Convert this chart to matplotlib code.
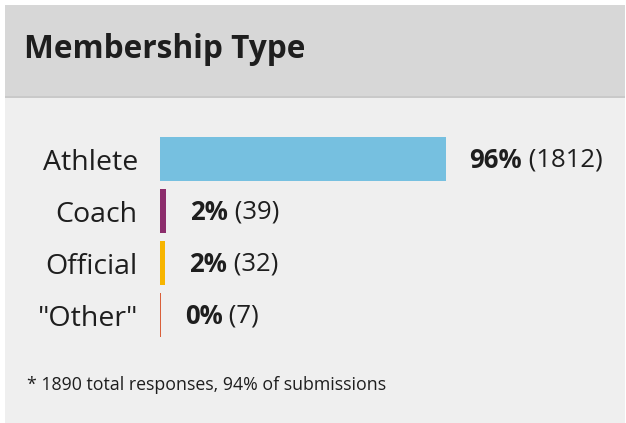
import matplotlib.pyplot as plt
from matplotlib.patches import Rectangle

# data
categories = ['Athlete', 'Coach', 'Official', '"Other"']
counts = [1812, 39, 32, 7]
percents = ['96%', '2%', '2%', '0%']
colors = ['#76c0e0', '#8c2d6c', '#f7b500', '#d95f3a']

title = 'Membership Type'
footnote = '* 1890 total responses, 94% of submissions'

W, H = 626, 423
fig = plt.figure(figsize=(W / 100, H / 100), dpi=100)
fig.patch.set_facecolor('white')
plt.rcParams['font.family'] = ['Open Sans', 'DejaVu Sans']

def fx(px):
    return px / W

def fy(py):
    return 1 - py / H

# card body and header
fig.patches.append(Rectangle((fx(5), 0), fx(620), fy(5), transform=fig.transFigure,
                             facecolor='#efefef', edgecolor='none', zorder=-2))
fig.patches.append(Rectangle((fx(5), fy(97)), fx(620), fy(5) - fy(97), transform=fig.transFigure,
                             facecolor='#d7d7d7', edgecolor='none', zorder=-2))
fig.patches.append(Rectangle((fx(5), fy(98)), fx(620), fy(96) - fy(98), transform=fig.transFigure,
                             facecolor='#c9c9c9', edgecolor='none', zorder=-2))
fig.text(fx(24), fy(50), title, fontsize=22.8, fontweight='bold', color='#1e1e1e',
         ha='left', va='center')
fig.text(fx(27), fy(385), footnote, fontsize=12.8, color='#1e1e1e', ha='left', va='center')

# bars
ax = fig.add_axes([fx(160), fy(341), fx(286), fy(133) - fy(341)])
ax.set_facecolor('none')
y = list(range(len(categories)))
ax.barh(y, counts, height=0.83, color=colors)
ax.set_xlim(0, max(counts))
ax.set_ylim(len(categories) - 0.5, -0.5)
ax.set_yticks(y)
ax.set_yticklabels(categories, fontsize=20.5, color='#1e1e1e')
ax.tick_params(axis='y', length=0, pad=16)
ax.set_xticks([])
for s in ax.spines.values():
    s.set_visible(False)

for i in y:
    t = ax.annotate(percents[i], xy=(counts[i], i), xytext=(17, -1), textcoords='offset points',
                    fontsize=18.5, fontweight='bold', color='#1e1e1e', va='center', ha='left',
                    annotation_clip=False)
    ax.annotate(' (%d)' % counts[i], xy=(1, 0.5), xycoords=t, fontsize=18.5, color='#1e1e1e',
                va='center', ha='left', annotation_clip=False)

fig.savefig('out.png', dpi=100)
